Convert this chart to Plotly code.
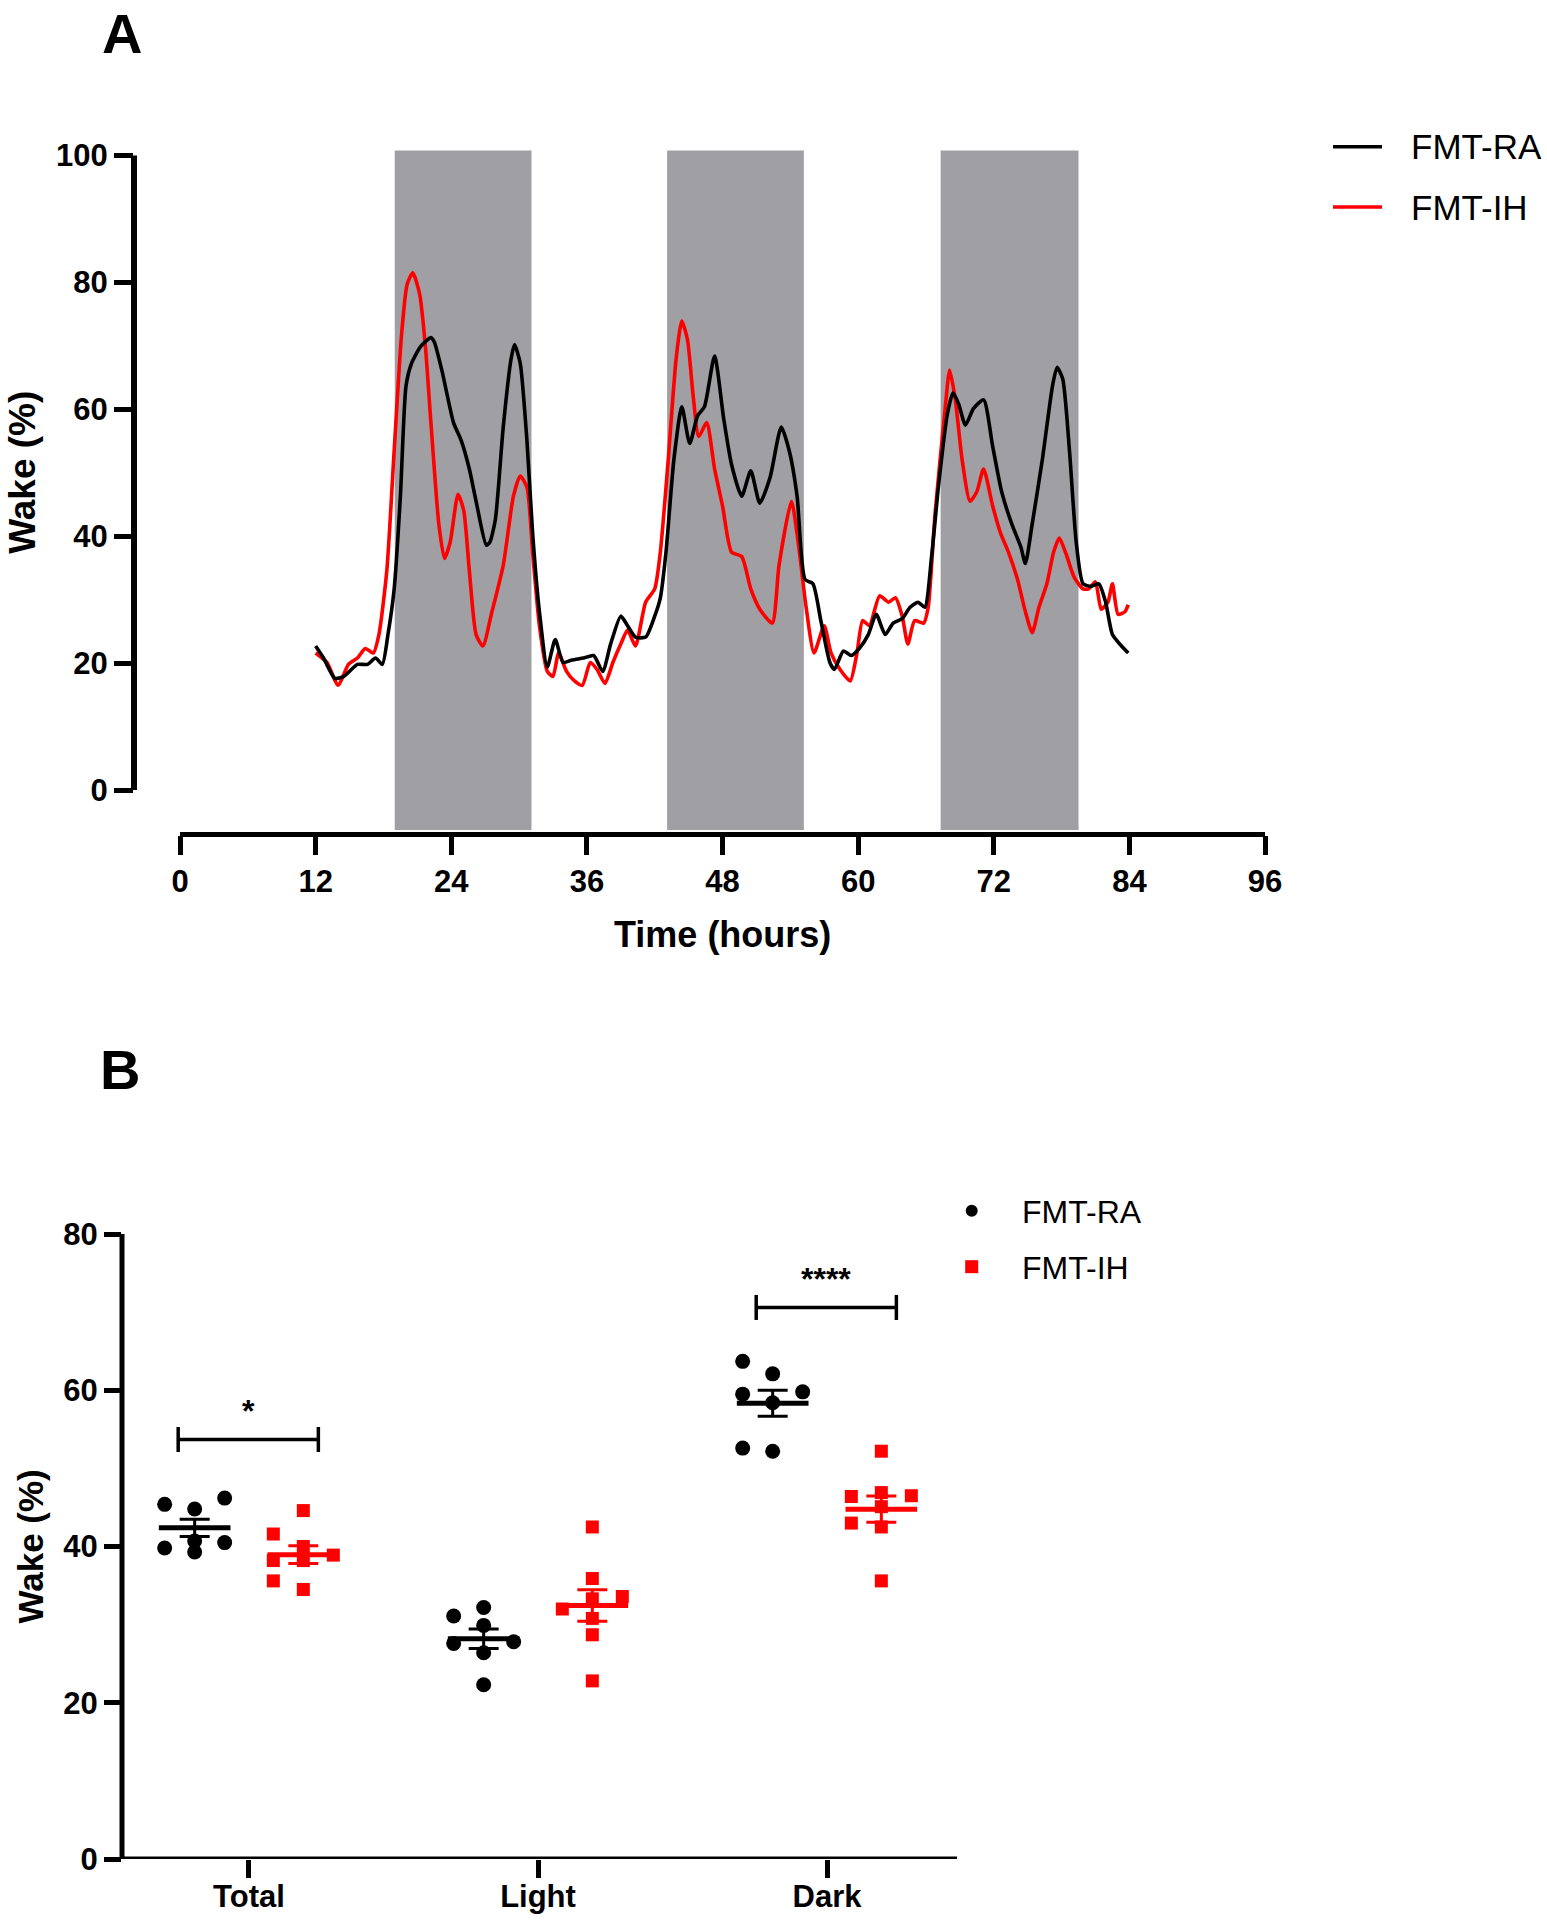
import numpy as np
import plotly.graph_objects as go

# ---------------- Panel A data ----------------
t_ra = [12.0, 12.7, 13.7, 14.5, 15.7, 16.6, 17.3, 17.9, 18.4, 18.95, 19.5, 20.0, 20.5, 21.3, 22.2, 22.5,
        23.2, 24.2, 24.9, 25.6, 26.2, 27.1, 27.4, 27.9, 28.6, 29.3, 29.6, 30.1, 30.7, 31.2, 31.8, 32.5,
        33.2, 33.9, 34.7, 35.7, 36.6, 37.4, 38.1, 39.0, 39.6, 40.3, 41.2, 42.0, 42.5, 43.0, 43.7, 44.4,
        45.1, 45.8, 46.4, 47.3, 48.1, 48.8, 49.7, 50.5, 51.3, 52.2, 53.2, 53.9, 54.6, 55.3, 56.0, 56.7,
        57.5, 57.9, 58.7, 59.4, 60.1, 60.9, 61.6, 62.4, 63.1, 63.9, 64.6, 65.3, 65.9, 66.5, 67.1, 67.9,
        68.4, 68.9, 69.5, 70.2, 71.1, 71.9, 72.7, 73.6, 74.4, 74.8, 75.4, 76.3, 77.2, 77.6, 78.1, 78.7,
        79.3, 79.9, 80.6, 81.3, 81.9, 82.5, 83.3, 83.9]
wake_ra = [22.7, 20.8, 17.6, 17.9, 19.8, 19.8, 20.8, 19.8, 24.5, 31.7, 46.3, 63.7, 67.3, 69.9, 71.3, 70.6,
           65.9, 57.9, 55.0, 50.6, 45.5, 38.6, 39.0, 42.6, 57.2, 68.0, 70.2, 67.3, 55.0, 40.5, 28.1, 19.4,
           23.7, 20.1, 20.5, 20.8, 21.2, 18.7, 23.0, 27.4, 25.9, 24.1, 24.1, 27.4, 30.3, 37.5, 52.1, 60.4,
           54.6, 59.0, 60.4, 68.4, 58.6, 51.3, 46.3, 50.3, 45.2, 49.2, 57.2, 53.5, 46.3, 33.2, 32.5, 26.7,
           20.1, 19.0, 21.9, 21.2, 22.3, 24.5, 27.7, 24.5, 26.3, 27.0, 28.8, 29.6, 28.8, 36.8, 47.7, 59.3,
           62.6, 60.8, 57.5, 60.1, 61.5, 54.2, 47.0, 41.9, 38.3, 35.7, 41.9, 52.1, 63.7, 66.6, 64.8, 53.5,
           39.0, 32.5, 32.1, 32.5, 29.6, 24.5, 22.7, 21.6]

t_ih = [12.0, 13.0, 14.0, 14.9, 15.7, 16.4, 17.1, 17.6, 18.3, 18.95, 19.6, 20.1, 20.6, 21.2, 21.7, 22.2,
        22.9, 23.4, 23.9, 24.6, 25.1, 25.6, 26.2, 26.8, 27.6, 28.6, 29.5, 30.1, 30.7, 31.2, 31.8, 32.5,
        33.0, 33.5, 34.2, 34.9, 35.6, 36.3, 36.9, 37.6, 38.3, 39.0, 39.6, 40.3, 41.2, 42.0, 42.5, 43.2,
        43.9, 44.4, 44.9, 45.4, 45.9, 46.6, 47.3, 48.0, 48.8, 49.7, 50.5, 51.3, 52.4, 53.0, 54.1, 54.7,
        55.4, 56.1, 57.0, 57.6, 58.4, 59.3, 59.9, 60.4, 61.0, 61.9, 62.7, 63.3, 63.9, 64.4, 65.0, 65.8,
        66.2, 66.8, 67.7, 68.1, 68.6, 69.2, 69.9, 70.5, 71.1, 71.9, 72.6, 73.3, 74.1, 74.8, 75.4, 76.0,
        76.7, 77.3, 77.8, 78.4, 79.1, 79.9, 80.4, 81.0, 81.5, 82.1, 82.5, 83.0, 83.6, 83.9]
wake_ih = [21.6, 20.1, 16.5, 19.8, 20.8, 22.3, 21.6, 24.5, 34.6, 53.5, 71.7, 79.7, 81.5, 78.2, 70.2, 57.9,
           41.9, 36.5, 39.0, 46.6, 44.1, 34.6, 24.5, 22.7, 28.1, 35.4, 46.3, 49.5, 47.7, 37.5, 25.9, 18.7,
           17.9, 21.6, 18.7, 17.2, 16.5, 20.1, 19.0, 16.8, 20.1, 23.0, 25.2, 22.7, 29.6, 31.7, 37.5, 52.1,
           68.0, 73.9, 71.0, 62.2, 55.7, 57.9, 50.6, 44.8, 37.5, 36.8, 31.7, 28.5, 26.3, 35.4, 45.5, 39.0,
           28.8, 21.6, 25.9, 21.6, 19.0, 17.2, 21.6, 26.7, 25.9, 30.6, 29.6, 30.3, 27.4, 23.0, 26.7, 26.3,
           28.8, 43.4, 60.1, 66.2, 61.5, 52.1, 45.5, 47.0, 50.6, 44.8, 40.5, 37.5, 33.2, 28.1, 24.8, 28.8,
           32.5, 37.5, 39.7, 37.2, 33.6, 31.7, 31.7, 32.8, 28.5, 29.6, 32.5, 27.7, 28.1, 29.2]

dark_start = [19.0, 43.1, 67.3]
dark_end = [31.1, 55.2, 79.5]
xticks_a = [0, 12, 24, 36, 48, 60, 72, 84, 96]
yticks_a = [0, 20, 40, 60, 80, 100]

# ---------------- Panel B data ----------------
categories = ["Total", "Light", "Dark"]
ra_total = [46.2, 45.4, 44.8, 40.7, 40.5, 39.8, 39.3]
ra_light = [32.2, 31.1, 29.9, 27.8, 27.6, 26.4, 22.3]
ra_dark = [63.7, 62.1, 59.8, 59.5, 58.4, 52.6, 52.2]
ih_total = [44.6, 41.6, 40.0, 38.9, 38.2, 38.2, 35.6, 34.5]
ih_light = [42.5, 35.9, 33.6, 33.3, 32.0, 30.8, 28.7, 22.8]
ih_dark = [52.2, 46.9, 46.5, 46.4, 45.1, 43.0, 42.5, 35.6]
yticks_b = [0, 20, 40, 60, 80]
sig_labels = ["*", "", "****"]
sig_heights = [53.7, None, 70.6]

# ---------------- styling / geometry ----------------
W, H = 1547, 1920
FONT = "Liberation Sans, Arial, sans-serif"
BLACK = "#000000"
RED = "#FF0000"
GRAY = "#A0A0A4"


def px(xp):
    return xp / W


def py(yp):
    return 1 - yp / H


fig = go.Figure()

# Panel A lines
fig.add_trace(go.Scatter(x=t_ih, y=wake_ih, mode="lines", name="FMT-IH",
                         line=dict(color=RED, width=3.6, shape="spline", smoothing=0.6),
                         xaxis="x", yaxis="y", showlegend=False))
fig.add_trace(go.Scatter(x=t_ra, y=wake_ra, mode="lines", name="FMT-RA",
                         line=dict(color=BLACK, width=3.6, shape="spline", smoothing=0.6),
                         xaxis="x", yaxis="y", showlegend=False))

# Panel B scatter
B_XPX = 289.0   # px per category unit
B_YPX = 7.8125  # px per % unit
GROUP_OFF = 0.188


def swarm(vals, step_px=30.0, diam=15.0):
    vals = np.asarray(vals, dtype=float)
    order = np.argsort(vals)
    placed = []
    offs = np.zeros(len(vals))
    for idx in order:
        vy = vals[idx] * B_YPX
        best_c, best_d = 0, -1
        for c in (0, -1, 1):
            cx = c * step_px
            dmin = min([np.hypot(cx - ox, vy - oy) for ox, oy in placed], default=1e9)
            if dmin >= diam:
                best_c, best_d = c, dmin
                break
            if dmin > best_d:
                best_c, best_d = c, dmin
        placed.append((best_c * step_px, vy))
        offs[idx] = best_c * step_px / B_XPX
    return offs


groups = [
    ("FMT-RA", [ra_total, ra_light, ra_dark], BLACK, "circle", 15, -GROUP_OFF),
    ("FMT-IH", [ih_total, ih_light, ih_dark], RED, "square", 13, GROUP_OFF),
]

for name, data, col, sym, msize, goff in groups:
    xs, ys = [], []
    mx, my, ex, ey, es = [], [], [], [], []
    for ci, vals in enumerate(data):
        offs = swarm(vals)
        xs += list(ci + goff + offs)
        ys += list(vals)
        m = float(np.mean(vals))
        sem = float(np.std(vals, ddof=1) / np.sqrt(len(vals)))
        mx += [ci + goff - 0.124, ci + goff + 0.124, None]
        my += [m, m, None]
        ex.append(ci + goff)
        ey.append(m)
        es.append(sem)
    fig.add_trace(go.Scatter(x=xs, y=ys, mode="markers", name=name,
                             marker=dict(symbol=sym, size=msize, color=col, line=dict(width=0)),
                             xaxis="x2", yaxis="y2", showlegend=False))
    fig.add_trace(go.Scatter(x=mx, y=my, mode="lines", line=dict(color=col, width=5),
                             xaxis="x2", yaxis="y2", showlegend=False, hoverinfo="skip"))
    fig.add_trace(go.Scatter(x=ex, y=ey, mode="markers", marker=dict(size=1, opacity=0),
                             error_y=dict(type="data", array=es, width=15, thickness=3, color=col),
                             xaxis="x2", yaxis="y2", showlegend=False, hoverinfo="skip"))

# significance brackets
bx, byy = [], []
for ci, (lab, h) in enumerate(zip(sig_labels, sig_heights)):
    if h is None:
        continue
    a, b = ci - 0.245, ci + 0.24
    bx += [a, b, None, a, a, None, b, b, None]
    byy += [h, h, None, h - 1.6, h + 1.6, None, h - 1.6, h + 1.6, None]
fig.add_trace(go.Scatter(x=bx, y=byy, mode="lines", line=dict(color=BLACK, width=3.5),
                         xaxis="x2", yaxis="y2", showlegend=False, hoverinfo="skip"))

# ---------------- shapes ----------------
shapes = []
for s, e in zip(dark_start, dark_end):
    shapes.append(dict(type="rect", xref="x", yref="y", x0=s, x1=e, y0=-6.3, y1=100.8,
                       fillcolor=GRAY, line=dict(width=0), layer="below"))
# panel A axis lines
shapes.append(dict(type="line", xref="x domain", yref="y", x0=0, x1=0, y0=0, y1=100,
                   line=dict(color=BLACK, width=6)))
shapes.append(dict(type="line", xref="x", yref="y domain", x0=0, x1=96, y0=0, y1=0,
                   line=dict(color=BLACK, width=5)))
# panel B axis lines
shapes.append(dict(type="line", xref="x2 domain", yref="y2", x0=0, x1=0, y0=0, y1=80,
                   line=dict(color=BLACK, width=5)))
shapes.append(dict(type="line", xref="x2 domain", yref="y2", x0=0, x1=1, y0=0, y1=0,
                   line=dict(color=BLACK, width=5)))

# manual legends
# panel A
for yy, col in [(146.7, BLACK), (207.0, RED)]:
    shapes.append(dict(type="line", xref="paper", yref="paper", x0=px(1333), x1=px(1382),
                       y0=py(yy), y1=py(yy), line=dict(color=col, width=3.6)))
# panel B
shapes.append(dict(type="circle", xref="paper", yref="paper", x0=px(965.7), x1=px(977.7),
                   y0=py(1216.7), y1=py(1204.7), fillcolor=BLACK, line=dict(width=0)))
shapes.append(dict(type="rect", xref="paper", yref="paper", x0=px(965.2), x1=px(978.2),
                   y0=py(1273.2), y1=py(1260.2), fillcolor=RED, line=dict(width=0)))

# ---------------- annotations ----------------
ann = []


def text(x, y, s, size, bold=True, xref="paper", yref="paper", xanchor="center",
         yanchor="middle", angle=0):
    ann.append(dict(x=x, y=y, xref=xref, yref=yref, text=s, showarrow=False,
                    xanchor=xanchor, yanchor=yanchor, textangle=angle,
                    font=dict(family=FONT, size=size, color=BLACK,
                              weight="bold" if bold else "normal")))


text(px(122), 1.0, "A", 56, yanchor="top")
text(px(120), py(1069), "B", 56)
text(px(23), 50, "Wake (%)", 37, yref="y", angle=-90)
text(48, py(934), "Time (hours)", 36, xref="x")
text(px(31), 40, "Wake (%)", 35, yref="y2", angle=-90)
text(px(1409), py(147), "FMT-RA", 35, bold=False, xanchor="left")
text(px(1409), py(207.5), "FMT-IH", 35, bold=False, xanchor="left")
text(px(1020), py(1211.5), "FMT-RA", 32, bold=False, xanchor="left")
text(px(1020), py(1267.5), "FMT-IH", 32, bold=False, xanchor="left")
for ci, (lab, h) in enumerate(zip(sig_labels, sig_heights)):
    if h is None:
        continue
    text(ci - 0.003, h + 3.6, lab, 32, xref="x2", yref="y2")

tickfont = dict(family=FONT, size=31, color=BLACK, weight="bold")
common = dict(showgrid=False, zeroline=False, showline=False, ticks="outside",
              tickcolor=BLACK, tickfont=tickfont, fixedrange=True, automargin=False)

fig.update_layout(
    width=W, height=H, autosize=False,
    margin=dict(l=0, r=0, t=0, b=0, pad=0),
    paper_bgcolor="white", plot_bgcolor="white",
    font=dict(family=FONT, color=BLACK),
    showlegend=False,
    xaxis=dict(domain=[px(134), px(1276.3)], range=[-4.07, 97], tickvals=xticks_a,
               ticklen=19, tickwidth=5, anchor="y", **common),
    yaxis=dict(domain=[py(834.5), py(142.8)], range=[-7.01, 102], tickvals=yticks_a,
               ticklen=19, tickwidth=5, anchor="x", **common),
    xaxis2=dict(domain=[px(122), px(957)], range=[-0.4394, 2.4498], tickvals=[0, 1, 2],
                ticktext=categories, ticklen=18, tickwidth=5, anchor="y2",
                ticklabelstandoff=-8, **common),
    yaxis2=dict(domain=[py(1859), py(1218.4)], range=[0, 82], tickvals=yticks_b,
                ticklen=17, tickwidth=5, anchor="x2", **common),
    shapes=shapes,
    annotations=ann,
)

fig.write_html("out.html", config={"displayModeBar": False},
               post_script="document.body.style.margin='0';")
